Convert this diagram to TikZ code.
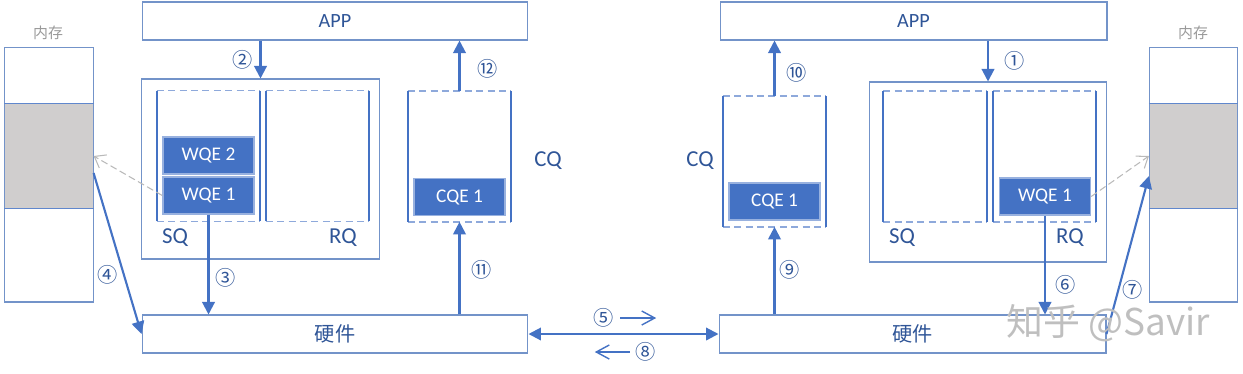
\documentclass[tikz,border=0pt]{standalone}
\usepackage{fontspec}
\setmainfont{Carlito}
\newfontfamily\cjk{Noto Sans CJK SC}
\usepackage{tikz}
\usetikzlibrary{arrows.meta,positioning,calc}
\definecolor{rblue}{HTML}{4472C4}
\definecolor{rtext}{HTML}{2F5597}
\definecolor{rframe}{HTML}{7393C9}
\definecolor{rdash}{HTML}{8EA9DB}
\definecolor{rgray}{HTML}{D0CECE}
\tikzset{
  >={Triangle[length=2.5mm,width=2.5mm]},
  % boxes
  blk/.style={draw=rframe,line width=0.6pt,inner sep=0pt,text=rtext,
              minimum height=7.6mm,font=\fontsize{11.5}{13}\selectfont},
  qpbox/.style={draw=rframe,line width=0.6pt,inner sep=0pt,
                minimum width=4.75cm,minimum height=3.6cm},
  queue/.style={inner sep=0pt,minimum width=2.06cm,minimum height=2.6cm},
  qside/.style={draw=rblue,line width=1pt},
  qend/.style={draw=rdash,line width=0.8pt,dash pattern=on 4pt off 2.5pt},
  entry/.style={fill=rblue,draw=rblue!55!white,line width=0.8pt,text=white,
                inner sep=0pt,minimum width=1.82cm,minimum height=0.74cm,
                font=\fontsize{11}{13}\selectfont},
  mem/.style={draw=rframe,line width=0.6pt,inner sep=0pt,
              minimum width=1.77cm,minimum height=5.1cm},
  band/.style={fill=rgray,inner sep=0pt,minimum width=1.77cm,minimum height=2.08cm},
  bandline/.style={draw=rblue!85,line width=0.8pt},
  % arrows
  flow/.style={->,draw=rblue,line width=1.2pt},
  both/.style={<->,draw=rblue,line width=1.2pt},
  ptr/.style={-{Straight Barb[length=2mm,width=3mm]},draw=gray!55,line width=0.6pt,
              dash pattern=on 4pt off 2pt},
  dirarr/.style={-{Straight Barb[length=2.6mm,width=2.8mm]},draw=rblue,line width=0.8pt},
  % labels
  num/.style={font=\cjk\fontsize{11.5}{13}\selectfont,text=rtext,inner sep=1pt},
  qlbl/.style={font=\fontsize{13}{15}\selectfont,text=rtext,inner sep=0pt},
  memlbl/.style={font=\cjk\fontsize{8.5}{10}\selectfont,text=gray!80,inner sep=0pt},
  wmark/.style={font=\cjk\fontsize{21}{24}\selectfont,text=gray!50,inner sep=0pt},
}
\begin{document}
\begin{tikzpicture}[x=0.02cm,y=-0.02cm]
\useasboundingbox (0,0) rectangle (1243,373);
  % left side
  \node[blk,minimum width=7.72cm] (app1) at (335,21) {APP};
  \node[blk,minimum width=7.72cm] (hw1) at (335,334) {\cjk 硬件};
  \node[qpbox] (qp1) at (260.5,169) {};
  \node[queue] (sq1) at (208.5,156) {};
  \node[queue] (rq1) at (317.5,156) {};
  \node[queue] (cq1) at (459.5,156.5) {};
  \node[entry] (wqe2) at (208.5,155.5) {WQE 2};
  \node[entry] (wqe1) at (208.5,195.5) {WQE 1};
  \node[entry] (cqe1) at (459.5,197) {CQE 1};
  \node[qlbl] (sql1) at (175,238) {SQ};
  \node[qlbl] (rql1) at (343,238) {RQ};
  \node[qlbl] (cql1) at (548,161) {CQ};
  \node[band] (band1) at (49,156) {};
  \node[mem] (mem1) at (49,174.5) {};
  \node[memlbl] (meml1) at (48,33) {内存};
  % right side
  \node[blk,minimum width=7.74cm] (app2) at (913.5,21) {APP};
  \node[blk,minimum width=7.74cm] (hw2) at (912.5,334) {\cjk 硬件};
  \node[qpbox] (qp2) at (988,172) {};
  \node[queue] (sq2) at (935,156.5) {};
  \node[queue] (rq2) at (1044.5,156.5) {};
  \node[queue] (cq2) at (774.5,161.5) {};
  \node[entry] (wqe1b) at (1045,196.5) {WQE 1};
  \node[entry] (cqe1b) at (774.5,201.5) {CQE 1};
  \node[qlbl] (sql2) at (902,238) {SQ};
  \node[qlbl] (rql2) at (1070,238) {RQ};
  \node[qlbl] (cql2) at (700,161) {CQ};
  \node[band] (band2) at (1193.5,156) {};
  \node[mem] (mem2) at (1193.5,174.5) {};
  \node[memlbl] (meml2) at (1193,33) {内存};
  % queues: solid sides, dashed ends
  \foreach \q in {sq1,rq1,cq1,sq2,rq2,cq2} {
    \draw[qend] (\q.north west) -- (\q.north east) (\q.south west) -- (\q.south east);
    \draw[qside] (\q.north west) -- (\q.south west) (\q.north east) -- (\q.south east);
  }
  \foreach \b in {band1,band2}
    \draw[bandline] (\b.north west) -- (\b.north east) (\b.south west) -- (\b.south east);
  % steps
  \draw[flow] (app1.south -| qp1.north) -- (qp1.north);
  \draw[flow] (wqe1.south) -- (wqe1.south |- hw1.north);
  \draw[flow] ([yshift=-0.34cm]band1.east) -- (hw1.west);
  \draw[ptr] (wqe1.west) -- (band1.east);
  \draw[flow] (cq1.north) -- (cq1.north |- app1.south);
  \draw[flow] (cq1.south |- hw1.north) -- (cq1.south);
  \draw[both] (hw1.east) -- (hw2.west);
  \draw[flow] (app2.south -| qp2.north) -- (qp2.north);
  \draw[flow] (wqe1b.south) -- (wqe1b.south |- hw2.north);
  \draw[flow] (hw2.east) -- ([yshift=-0.4cm]band2.west);
  \draw[ptr] (wqe1b.east) -- (band2.west);
  \draw[flow] (cq2.north) -- (cq2.north |- app2.south);
  \draw[flow] (cq2.south |- hw2.north) -- (cq2.south);
  % step numbers
  \node[num] (n1) at (1015,61) {①};
  \node[num] (n2) at (243,60) {②};
  \node[num] (n3) at (226,278) {③};
  \node[num] (n4) at (108,275) {④};
  \node[num] (n5) at (604,318) {⑤};
  \node[num] (n6) at (1066,285) {⑥};
  \node[num] (n7) at (1133,290) {⑦};
  \node[num] (n8) at (646,352) {⑧};
  \node[num] (n9) at (790,270) {⑨};
  \node[num] (n10) at (797,73) {⑩};
  \node[num] (n11) at (482,270) {⑪};
  \node[num] (n12) at (488,69) {⑫};
  \draw[dirarr] ([xshift=0.08cm]n5.east) -- ++(36,0);
  \draw[dirarr] ([xshift=-0.08cm]n8.west) -- ++(-35,0);
  \node[wmark] (wm) at (1108,323) {知乎 @Savir};
\end{tikzpicture}
\end{document}
